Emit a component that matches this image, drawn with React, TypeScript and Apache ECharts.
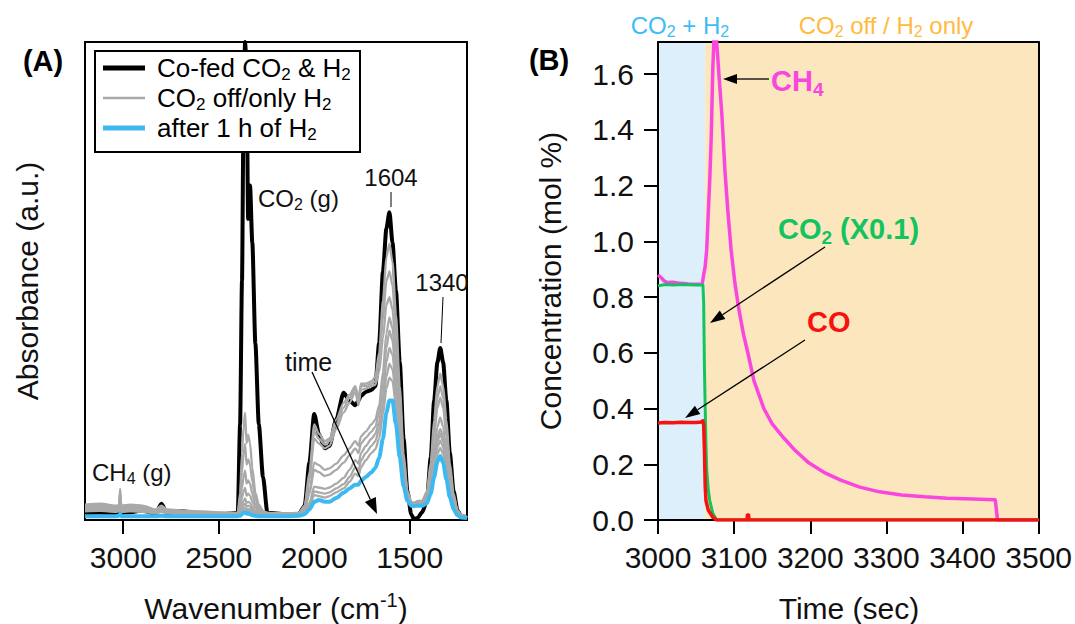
import React, { useEffect, useRef } from 'react';
import * as echarts from 'echarts';

const FONT = '"Liberation Sans", Arial, Helvetica, sans-serif';

// ---------------- (A) IR spectra ----------------
const WAVENUMBERS = [
  3200, 3120, 3040, 3022, 3016, 3010, 2960, 2900, 2830, 2800, 2770, 2700, 2600, 2480,
  2400, 2388, 2378, 2370, 2362, 2354, 2346, 2336, 2324, 2308, 2290, 2268, 2245,
  2150, 2080, 2050, 2025,
  2000, 1975, 1945, 1920, 1885, 1846, 1815, 1785, 1768, 1755,
  1730, 1700, 1680, 1660, 1640, 1622, 1606, 1590, 1572, 1552,
  1532, 1512, 1492, 1478, 1460, 1435, 1410, 1390, 1372, 1355,
  1340, 1325, 1308, 1290, 1270, 1250, 1230, 1200,
];

const ABS_COFED = [
  0.014, 0.015, 0.014, 0.015, 0.017, 0.015, 0.016, 0.02, 0.013, 0.034, 0.014, 0.019, 0.013, 0.012,
  0.015, 0.2, 0.5, 0.85, 1.0, 0.95, 0.63, 0.7, 0.58, 0.37, 0.2, 0.09, 0.015,
  0.012, 0.013, 0.03, 0.12,
  0.222, 0.18, 0.15, 0.155, 0.21, 0.266, 0.25, 0.24, 0.25, 0.26,
  0.268, 0.272, 0.28, 0.37, 0.52, 0.61, 0.644, 0.58, 0.48, 0.33,
  0.17, 0.06, 0.012, 0.002, 0.004, 0.016, 0.04, 0.13, 0.25, 0.33,
  0.36, 0.33, 0.25, 0.14, 0.06, 0.02, 0.008, 0.006,
];

const ABS_H2_1 = [
  0.032, 0.034, 0.03, 0.031, 0.065, 0.03, 0.032, 0.03, 0.022, 0.03, 0.022, 0.02, 0.018, 0.016,
  0.015, 0.057, 0.14, 0.193, 0.224, 0.161, 0.178, 0.161, 0.109, 0.057, 0.032, 0.019, 0.015,
  0.014, 0.015, 0.03, 0.1,
  0.2, 0.18, 0.165, 0.17, 0.21, 0.245, 0.262, 0.28, 0.255, 0.285,
  0.285, 0.29, 0.3, 0.35, 0.46, 0.55, 0.578, 0.54, 0.43, 0.28,
  0.14, 0.06, 0.038, 0.035, 0.04, 0.04, 0.06, 0.12, 0.21, 0.28,
  0.306, 0.28, 0.21, 0.12, 0.055, 0.02, 0.01, 0.006,
];

const ABS_H2_2 = [
  0.03, 0.031, 0.028, 0.029, 0.058, 0.028, 0.03, 0.028, 0.02, 0.027, 0.02, 0.019, 0.017, 0.015,
  0.015, 0.044, 0.101, 0.137, 0.159, 0.116, 0.127, 0.116, 0.08, 0.044, 0.027, 0.018, 0.015,
  0.014, 0.015, 0.028, 0.09,
  0.185, 0.17, 0.158, 0.165, 0.2, 0.235, 0.255, 0.275, 0.25, 0.28,
  0.28, 0.285, 0.29, 0.33, 0.42, 0.5, 0.52, 0.49, 0.39, 0.26,
  0.13, 0.06, 0.038, 0.036, 0.038, 0.04, 0.055, 0.11, 0.19, 0.255,
  0.28, 0.255, 0.19, 0.11, 0.05, 0.02, 0.01, 0.006,
];

const ABS_H2_3 = [
  0.028, 0.029, 0.026, 0.027, 0.052, 0.026, 0.028, 0.026, 0.019, 0.025, 0.019, 0.018, 0.016, 0.014,
  0.014, 0.032, 0.067, 0.089, 0.103, 0.076, 0.083, 0.076, 0.054, 0.032, 0.021, 0.016, 0.014,
  0.014, 0.014, 0.026, 0.085,
  0.17, 0.16, 0.15, 0.155, 0.19, 0.225, 0.245, 0.268, 0.24, 0.272,
  0.275, 0.28, 0.283, 0.31, 0.38, 0.45, 0.466, 0.44, 0.35, 0.23,
  0.12, 0.055, 0.036, 0.035, 0.037, 0.038, 0.05, 0.1, 0.175, 0.235,
  0.256, 0.235, 0.175, 0.1, 0.045, 0.018, 0.009, 0.005,
];

const ABS_H2_4 = [
  0.026, 0.027, 0.024, 0.025, 0.047, 0.024, 0.026, 0.024, 0.018, 0.023, 0.018, 0.017, 0.015, 0.014,
  0.014, 0.025, 0.046, 0.059, 0.067, 0.051, 0.055, 0.051, 0.038, 0.025, 0.018, 0.015, 0.014,
  0.013, 0.013, 0.022, 0.06,
  0.12, 0.115, 0.105, 0.108, 0.118, 0.135, 0.15, 0.165, 0.155, 0.175,
  0.185, 0.2, 0.21, 0.24, 0.31, 0.39, 0.424, 0.4, 0.32, 0.21,
  0.11, 0.05, 0.035, 0.034, 0.036, 0.036, 0.045, 0.085, 0.145, 0.195,
  0.214, 0.195, 0.145, 0.085, 0.04, 0.016, 0.008, 0.005,
];

const ABS_H2_5 = [
  0.024, 0.025, 0.022, 0.023, 0.042, 0.022, 0.024, 0.022, 0.017, 0.021, 0.017, 0.016, 0.014, 0.013,
  0.013, 0.019, 0.032, 0.039, 0.045, 0.036, 0.038, 0.036, 0.027, 0.019, 0.015, 0.013, 0.013,
  0.013, 0.013, 0.02, 0.055,
  0.105, 0.1, 0.092, 0.095, 0.105, 0.12, 0.135, 0.15, 0.14, 0.16,
  0.172, 0.185, 0.195, 0.225, 0.29, 0.36, 0.396, 0.375, 0.3, 0.2,
  0.1, 0.048, 0.034, 0.033, 0.035, 0.035, 0.042, 0.078, 0.13, 0.175,
  0.19, 0.175, 0.13, 0.078, 0.037, 0.015, 0.008, 0.005,
];

const ABS_H2_6 = [
  0.022, 0.023, 0.02, 0.021, 0.038, 0.02, 0.022, 0.02, 0.016, 0.02, 0.016, 0.015, 0.014, 0.013,
  0.013, 0.017, 0.025, 0.03, 0.034, 0.028, 0.03, 0.028, 0.022, 0.017, 0.014, 0.013, 0.013,
  0.012, 0.012, 0.016, 0.035,
  0.07, 0.068, 0.065, 0.068, 0.076, 0.088, 0.105, 0.125, 0.118, 0.14,
  0.155, 0.17, 0.18, 0.205, 0.26, 0.33, 0.36, 0.345, 0.28, 0.185,
  0.095, 0.046, 0.033, 0.032, 0.034, 0.034, 0.04, 0.072, 0.12, 0.165,
  0.18, 0.165, 0.12, 0.072, 0.035, 0.014, 0.007, 0.005,
];

const ABS_H2_7 = [
  0.02, 0.021, 0.019, 0.02, 0.034, 0.019, 0.02, 0.019, 0.015, 0.018, 0.015, 0.014, 0.013, 0.012,
  0.012, 0.015, 0.02, 0.024, 0.026, 0.022, 0.023, 0.022, 0.018, 0.015, 0.013, 0.012, 0.012,
  0.012, 0.012, 0.015, 0.032,
  0.06, 0.058, 0.055, 0.058, 0.066, 0.075, 0.09, 0.11, 0.104, 0.125,
  0.14, 0.155, 0.165, 0.19, 0.24, 0.3, 0.327, 0.315, 0.26, 0.17,
  0.088, 0.044, 0.032, 0.031, 0.033, 0.033, 0.038, 0.067, 0.11, 0.152,
  0.166, 0.152, 0.11, 0.067, 0.033, 0.013, 0.007, 0.005,
];

const ABS_H2_8 = [
  0.018, 0.019, 0.017, 0.018, 0.03, 0.017, 0.018, 0.017, 0.014, 0.017, 0.014, 0.013, 0.012, 0.012,
  0.012, 0.013, 0.017, 0.019, 0.02, 0.018, 0.019, 0.018, 0.015, 0.013, 0.012, 0.012, 0.012,
  0.011, 0.011, 0.014, 0.028,
  0.052, 0.05, 0.047, 0.05, 0.058, 0.066, 0.08, 0.097, 0.092, 0.11,
  0.125, 0.14, 0.148, 0.17, 0.22, 0.275, 0.298, 0.29, 0.24, 0.16,
  0.082, 0.042, 0.031, 0.03, 0.032, 0.032, 0.036, 0.062, 0.1, 0.138,
  0.151, 0.138, 0.1, 0.062, 0.03, 0.012, 0.006, 0.004,
];

const ABS_AFTER_1H = [
  0.008, 0.008, 0.008, 0.009, 0.013, 0.008, 0.008, 0.008, 0.008, 0.009, 0.008, 0.008, 0.008, 0.008,
  0.008, 0.009, 0.012, 0.015, 0.016, 0.013, 0.014, 0.012, 0.01, 0.009, 0.008, 0.008, 0.008,
  0.008, 0.009, 0.012, 0.022,
  0.038, 0.042, 0.038, 0.038, 0.046, 0.057, 0.066, 0.074, 0.074, 0.082,
  0.09, 0.1, 0.109, 0.13, 0.17, 0.225, 0.25, 0.25, 0.2, 0.13,
  0.07, 0.04, 0.03, 0.029, 0.03, 0.03, 0.035, 0.055, 0.09, 0.122,
  0.134, 0.12, 0.085, 0.048, 0.022, 0.01, 0.005, 0.004,
];

const ABS_H2_SERIES = [ABS_H2_1, ABS_H2_2, ABS_H2_3, ABS_H2_4, ABS_H2_5, ABS_H2_6, ABS_H2_7, ABS_H2_8];
const WAVENUMBER_TICKS = [3000, 2500, 2000, 1500];

// ---------------- (B) outlet concentrations ----------------
const CH4_TIME = [
  3000, 3004, 3008, 3012, 3020, 3030, 3040, 3050, 3058, 3060,
  3062, 3064, 3066, 3068, 3070, 3072, 3074, 3076, 3078, 3080,
  3084, 3088, 3092, 3096, 3101, 3106, 3112, 3118, 3126, 3139,
  3150, 3165, 3180, 3198, 3220, 3240, 3265, 3291, 3320, 3350,
  3380, 3414, 3443, 3446, 3500,
];
const CH4_MOL = [
  0.879, 0.87, 0.858, 0.852, 0.853, 0.849, 0.847, 0.846, 0.846, 0.88,
  0.91, 0.97, 1.1, 1.22, 1.38, 1.62, 1.76, 1.74, 1.68, 1.6,
  1.45, 1.25, 1.1, 0.97, 0.85, 0.76, 0.67, 0.6, 0.5, 0.4,
  0.345, 0.295, 0.25, 0.205, 0.168, 0.143, 0.118, 0.101, 0.09, 0.083,
  0.078, 0.075, 0.073, 0.0, 0.0,
];

// CO2 is plotted scaled by 0.1
const CO2_TIME = [3000, 3010, 3020, 3030, 3040, 3050, 3059, 3060, 3061, 3062, 3063, 3064, 3066, 3068, 3072, 3077, 3500];
const CO2_MOL = [0.84, 0.845, 0.843, 0.845, 0.844, 0.843, 0.843, 0.78, 0.55, 0.4, 0.27, 0.18, 0.11, 0.07, 0.024, 0.0, 0.0];

const CO_TIME = [3000, 3010, 3020, 3030, 3040, 3050, 3057, 3059, 3060, 3061, 3062, 3063, 3066, 3072, 3077, 3117, 3117.5, 3119, 3119.5, 3500];
const CO_MOL = [0.348, 0.35, 0.349, 0.351, 0.35, 0.35, 0.352, 0.356, 0.34, 0.25, 0.12, 0.07, 0.036, 0.01, 0.0, 0.0, 0.018, 0.018, 0.0, 0.0];

const PHASE_BOUNDS = [3000, 3062, 3500];
const CONC_TICKS = [0, 0.2, 0.4, 0.6, 0.8, 1.0, 1.2, 1.4, 1.6];

// ---------------- styling ----------------
const C_BLACK = '#000000';
const C_GRAY = '#a9a9a9';
const C_BLUE = '#3db9f1';
const C_CH4 = '#f946df';
const C_CO2 = '#14c35e';
const C_CO = '#f5120f';
const C_PHASE1 = '#dceffb';
const C_PHASE2 = '#fce6be';
const C_PHASE1_TEXT = '#3dbdf4';
const C_PHASE2_TEXT = '#ffba3f';

const zip = (xs: number[], ys: number[]) => xs.map((x, i) => [x, ys[i]]);

// text with {s|..} subscripts and {p|..} superscripts
function label(
  x: number,
  y: number,
  text: string,
  size: number,
  color: string,
  opts: { align?: string; weight?: string; rotation?: number; lh?: number } = {}
) {
  const L = Math.round(size * (opts.lh || 1.2));
  const off = Math.round(size * 0.36);
  const small = Math.round(size * 0.65);
  const base = { fontFamily: FONT, fontWeight: opts.weight || 'normal', fill: color, color };
  const align = opts.align || 'left';
  return {
    type: 'text',
    x,
    y,
    rotation: opts.rotation || 0,
    z: 120,
    silent: true,
    style: {
      text,
      ...base,
      fontSize: size,
      lineHeight: L,
      align,
      textAlign: align,
      verticalAlign: 'middle',
      textVerticalAlign: 'middle',
      rich: {
        n: { ...base, fontSize: size, lineHeight: L },
        s: { ...base, fontSize: small, lineHeight: L - 2 * off, verticalAlign: 'bottom' },
        p: { ...base, fontSize: small, lineHeight: L - 2 * off, verticalAlign: 'top' },
      },
    },
  };
}

function arrow(x1: number, y1: number, x2: number, y2: number, head = 14, half = 5) {
  const dx = x2 - x1;
  const dy = y2 - y1;
  const len = Math.hypot(dx, dy);
  const ux = dx / len;
  const uy = dy / len;
  const bx = x2 - ux * head;
  const by = y2 - uy * head;
  return [
    {
      type: 'line',
      z: 120,
      silent: true,
      shape: { x1, y1, x2: bx, y2: by },
      style: { stroke: '#000', lineWidth: 1.3 },
    },
    {
      type: 'polygon',
      z: 120,
      silent: true,
      shape: { points: [[x2, y2], [bx - uy * half, by + ux * half], [bx + uy * half, by - ux * half]] },
      style: { fill: '#000' },
    },
  ];
}

function segment(x1: number, y1: number, x2: number, y2: number, w = 1) {
  return { type: 'line', z: 120, silent: true, shape: { x1, y1, x2, y2 }, style: { stroke: '#000', lineWidth: w } };
}

function buildOption() {
  const tickLabel = { fontFamily: FONT, fontSize: 30, color: '#111' };
  const axisLineStyle = { color: '#000', width: 2 };

  const spectrum = (values: number[], color: string, width: number, z: number) => ({
    type: 'line',
    xAxisIndex: 0,
    yAxisIndex: 0,
    data: zip(WAVENUMBERS, values),
    symbol: 'none',
    showSymbol: false,
    smooth: 0.25,
    smoothMonotone: 'x',
    silent: true,
    z,
    lineStyle: { color, width, join: 'round' },
  });

  const trace = (t: number[], v: number[], color: string, width: number, z: number) => ({
    type: 'line',
    xAxisIndex: 1,
    yAxisIndex: 1,
    data: zip(t, v),
    symbol: 'none',
    showSymbol: false,
    silent: true,
    clip: true,
    z,
    lineStyle: { color, width, join: 'round' },
  });

  const legendRows = [
    { text: '{n|Co-fed CO}{s|2}{n| & H}{s|2}', color: C_BLACK, width: 5 },
    { text: '{n|CO}{s|2}{n| off/only H}{s|2}', color: C_GRAY, width: 2.5 },
    { text: '{n|after 1 h of H}{s|2}', color: C_BLUE, width: 5 },
  ];
  const legendGraphics: any[] = [
    {
      type: 'rect',
      z: 100,
      silent: true,
      shape: { x: 95, y: 51, width: 265, height: 101 },
      style: { fill: '#fff', stroke: '#000', lineWidth: 2 },
    },
  ];
  legendRows.forEach((r, i) => {
    const y = 68 + i * 30;
    legendGraphics.push({
      type: 'line',
      z: 110,
      silent: true,
      shape: { x1: 103, y1: y, x2: 145, y2: y },
      style: { stroke: r.color, lineWidth: r.width },
    });
    legendGraphics.push(label(157, y, r.text, 26, '#000', { lh: 1.1 }));
  });

  const graphics: any[] = [
    // panel (A)
    label(43, 61, '{n|(A)}', 29, '#000', { align: 'center', weight: 'bold' }),
    label(27, 281, '{n|Absorbance (a.u.)}', 30, '#111', { align: 'center', rotation: Math.PI / 2 }),
    label(276, 608, '{n|Wavenumber (cm}{p|-1}{n|)}', 30, '#111', { align: 'center' }),
    ...legendGraphics,
    label(258, 198, '{n|CO}{s|2}{n| (g)}', 24, '#111'),
    label(391, 177, '{n|1604}', 24, '#111', { align: 'center' }),
    segment(391, 192, 391, 207),
    label(442, 282, '{n|1340}', 24, '#111', { align: 'center' }),
    segment(443, 297, 441, 343),
    label(285, 362, '{n|time}', 25, '#111'),
    ...arrow(312, 372, 377, 514, 16, 6),
    label(92, 472, '{n|CH}{s|4}{n| (g)}', 24, '#111'),

    // panel (B)
    label(549, 60, '{n|(B)}', 29, '#000', { align: 'center', weight: 'bold' }),
    label(550, 281, '{n|Concentration (mol %)}', 30, '#111', { align: 'center', rotation: Math.PI / 2 }),
    label(849, 608, '{n|Time (sec)}', 30, '#111', { align: 'center' }),
    label(680, 25, '{n|CO}{s|2}{n| + H}{s|2}', 24, C_PHASE1_TEXT, { align: 'center' }),
    label(886, 25, '{n|CO}{s|2}{n| off / H}{s|2}{n| only}', 24, C_PHASE2_TEXT, { align: 'center' }),
    label(771, 81, '{n|CH}{s|4}', 29, C_CH4, { weight: 'bold' }),
    ...arrow(769, 79, 723, 79, 14, 5),
    label(778, 229, '{n|CO}{s|2}{n| (X0.1)}', 29, C_CO2, { weight: 'bold' }),
    ...arrow(825, 247, 710, 323, 15, 5),
    label(807, 322, '{n|CO}', 29, C_CO, { weight: 'bold' }),
    ...arrow(805, 340, 685, 418, 15, 5),
  ];

  return {
    animation: false,
    backgroundColor: '#ffffff',
    grid: [
      { left: 85, top: 42, width: 382, height: 478, show: true, borderColor: '#000', borderWidth: 2, backgroundColor: '#fff' },
      { left: 658, top: 42, width: 381, height: 478, show: false },
    ],
    xAxis: [
      {
        gridIndex: 0,
        type: 'value',
        inverse: true,
        min: 1200,
        max: 3200,
        axisLine: { show: true, onZero: false, lineStyle: axisLineStyle },
        axisTick: { show: true, length: 14, customValues: WAVENUMBER_TICKS, lineStyle: axisLineStyle },
        axisLabel: { customValues: WAVENUMBER_TICKS, margin: 22, formatter: (v: number) => String(v), ...tickLabel },
        splitLine: { show: false },
      },
      {
        gridIndex: 1,
        type: 'value',
        min: 3000,
        max: 3500,
        interval: 100,
        z: 3,
        axisLine: { show: true, onZero: false, lineStyle: axisLineStyle },
        axisTick: { show: true, length: 14, lineStyle: axisLineStyle },
        axisLabel: { margin: 22, formatter: (v: number) => String(v), ...tickLabel },
        splitLine: { show: false },
      },
      {
        gridIndex: 1,
        type: 'value',
        position: 'top',
        min: 3000,
        max: 3500,
        z: 3,
        axisLine: { show: true, onZero: false, lineStyle: axisLineStyle },
        axisTick: { show: false },
        axisLabel: { show: false },
        splitLine: { show: false },
      },
    ],
    yAxis: [
      {
        gridIndex: 0,
        type: 'value',
        min: 0,
        max: 1,
        axisLine: { show: false },
        axisTick: { show: false },
        axisLabel: { show: false },
        splitLine: { show: false },
      },
      {
        gridIndex: 1,
        type: 'value',
        min: 0,
        max: 1.715,
        z: 3,
        axisLine: { show: true, onZero: false, lineStyle: axisLineStyle },
        axisTick: { show: true, length: 14, customValues: CONC_TICKS, lineStyle: axisLineStyle },
        axisLabel: {
          customValues: CONC_TICKS,
          margin: 24,
          formatter: (v: number) => v.toFixed(1),
          ...tickLabel,
        },
        splitLine: { show: false },
      },
      {
        gridIndex: 1,
        type: 'value',
        position: 'right',
        min: 0,
        max: 1.715,
        z: 3,
        axisLine: { show: true, onZero: false, lineStyle: axisLineStyle },
        axisTick: { show: false },
        axisLabel: { show: false },
        splitLine: { show: false },
      },
    ],
    series: [
      spectrum(ABS_COFED, C_BLACK, 4, 2),
      ...ABS_H2_SERIES.map((vals) => spectrum(vals, C_GRAY, 2.3, 3)),
      spectrum(ABS_AFTER_1H, C_BLUE, 4, 4),
      {
        type: 'line',
        xAxisIndex: 1,
        yAxisIndex: 1,
        data: [],
        z: 1,
        silent: true,
        markArea: {
          silent: true,
          data: [
            [{ xAxis: PHASE_BOUNDS[0], itemStyle: { color: C_PHASE1 } }, { xAxis: PHASE_BOUNDS[1] }],
            [{ xAxis: PHASE_BOUNDS[1], itemStyle: { color: C_PHASE2 } }, { xAxis: PHASE_BOUNDS[2] }],
          ],
        },
      },
      trace(CH4_TIME, CH4_MOL, C_CH4, 3.5, 4),
      trace(CO2_TIME, CO2_MOL, C_CO2, 3, 5),
      trace(CO_TIME, CO_MOL, C_CO, 3.5, 6),
    ],
    graphic: graphics,
  };
}

export default function App() {
  const ref = useRef<HTMLDivElement>(null);
  useEffect(() => {
    if (!ref.current) return;
    const chart = echarts.init(ref.current, null, { renderer: 'svg' });
    chart.setOption(buildOption() as any);
    return () => chart.dispose();
  }, []);
  return (
    <div
      ref={ref}
      style={{ position: 'fixed', left: 0, top: 0, width: 1075, height: 624, background: '#fff' }}
    />
  );
}
